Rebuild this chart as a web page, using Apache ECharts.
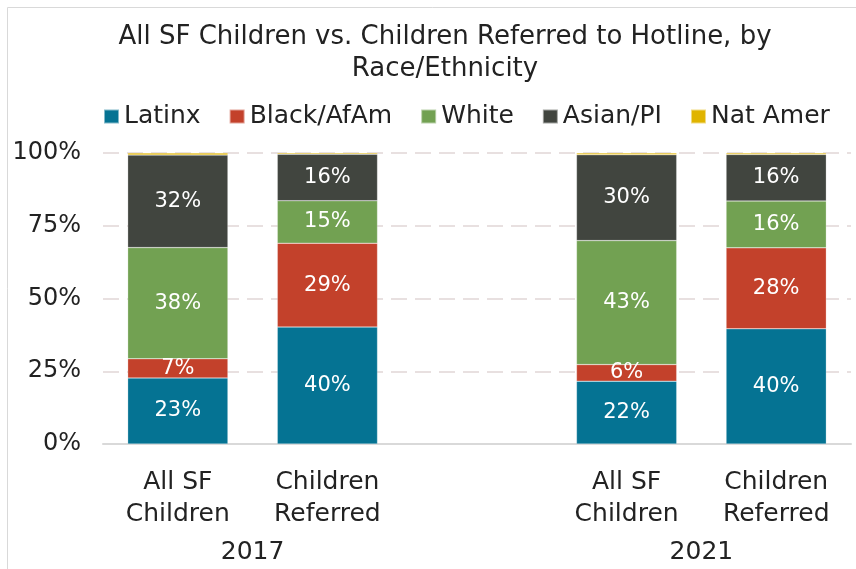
<!DOCTYPE html>
<html>
<head>
<meta charset="utf-8">
<script src="https://cdn.jsdelivr.net/npm/echarts@6.0.0/dist/echarts.min.js"></script>
<style>
  html, body { margin: 0; padding: 0; background: #fff; }
  #chart { width: 856px; height: 569px; }
</style>
</head>
<body>
<div id="chart"></div>
<script>
// categories (middle slot left empty as a spacer between years)
const categories = ['All SF\nChildren', 'Children\nReferred', '', 'All SF\nChildren', 'Children\nReferred'];
const yearSlots = ['', '', '2017', '', '', '', '', '', '2021', '', ''];
const seriesNames = ['Latinx', 'Black/AfAm', 'White', 'Asian/PI', 'Nat Amer'];

// percent shares
const latinx = [22.7, 40.2, null, 21.6, 39.6];
const black = [6.6, 28.8, null, 5.7, 27.8];
const white = [38.2, 14.6, null, 42.6, 16.1];
const asian = [31.8, 16.0, null, 29.5, 16.0];
const natAmer = [0.7, 0.4, null, 0.6, 0.5];

const colors = ['#057393', '#c3412b', '#72a152', '#41453f', '#e0b400'];
const font = '"DejaVu Sans", sans-serif';

const chart = echarts.init(document.getElementById('chart'));

const makeSeries = (name, data, i) => ({
  name: name,
  type: 'bar',
  stack: 'total',
  data: data,
  barWidth: '67%',
  itemStyle: { color: colors[i], borderColor: 'rgba(255,255,255,0.5)', borderWidth: 0.5 },
  label: {
    show: i < 4,
    position: 'inside',
    color: '#fff',
    fontFamily: font,
    fontSize: 21,
    formatter: (p) => Math.round(p.value) + '%',
  },
});

chart.setOption({
  animation: false,
  title: {
    text: 'All SF Children vs. Children Referred to Hotline, by\nRace/Ethnicity',
    left: 440,
    textAlign: 'center',
    top: 16,
    textStyle: { fontFamily: font, fontSize: 26, fontWeight: 'normal', color: '#222', lineHeight: 32 },
  },
  legend: {
    top: 99,
    left: 98,
    itemWidth: 15,
    itemHeight: 14,
    itemGap: 28,
    icon: 'rect',
    textStyle: { fontFamily: font, fontSize: 25, color: '#222', padding: [0, 0, 0, 0] },
    data: seriesNames,
  },
  graphic: [{
    type: 'rect',
    shape: { x: 7.5, y: 7.5, width: 900, height: 600 },
    style: { fill: 'none', stroke: '#d9d9d9', lineWidth: 1 },
    silent: true,
  }],
  grid: { left: 103, right: 5, top: 153, bottom: 125 },
  xAxis: [{
    type: 'category',
    data: categories,
    axisLine: { lineStyle: { color: '#d9d9d9', width: 2 } },
    axisTick: { show: false },
    axisLabel: { fontFamily: font, fontSize: 25, color: '#222', lineHeight: 32, margin: 22, interval: 0 },
  }, {
    type: 'category',
    position: 'bottom',
    boundaryGap: false,
    data: yearSlots,
    offset: 88,
    axisLine: { show: false },
    axisTick: { show: false },
    axisLabel: { fontFamily: font, fontSize: 25, color: '#222', interval: 0 },
  }],
  yAxis: {
    type: 'value',
    min: 0,
    max: 100,
    interval: 25,
    axisLine: { show: false },
    axisTick: { show: false },
    axisLabel: { formatter: '{value}%', fontFamily: font, fontSize: 24, color: '#222', margin: 22 },
    splitLine: { lineStyle: { color: '#e8e0e0', type: [16, 8], width: 2 } },
  },
  series: [
    makeSeries(seriesNames[0], latinx, 0),
    makeSeries(seriesNames[1], black, 1),
    makeSeries(seriesNames[2], white, 2),
    makeSeries(seriesNames[3], asian, 3),
    makeSeries(seriesNames[4], natAmer, 4),
  ],
});
</script>
</body>
</html>
